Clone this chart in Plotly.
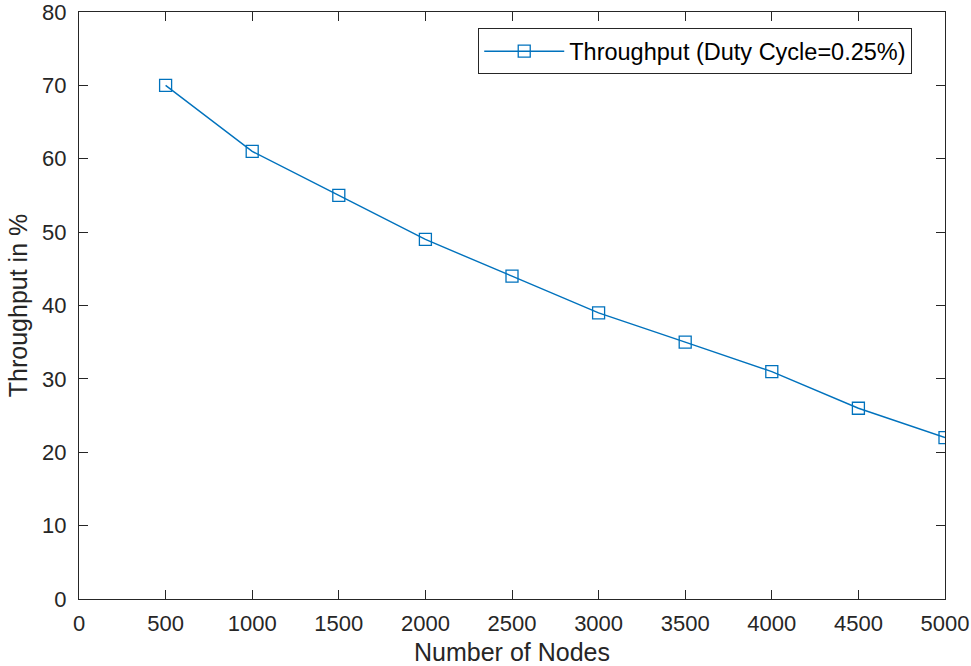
import plotly.graph_objects as go

nodes = [500, 1000, 1500, 2000, 2500, 3000, 3500, 4000, 4500, 5000]
throughput = [70, 61, 55, 49, 44, 39, 35, 31, 26, 22]
x_ticks = [0, 500, 1000, 1500, 2000, 2500, 3000, 3500, 4000, 4500, 5000]
y_ticks = [0, 10, 20, 30, 40, 50, 60, 70, 80]

blue = '#0072BD'
font = 'Liberation Sans, Arial, sans-serif'

fig = go.Figure()
fig.add_trace(go.Scatter(x=nodes, y=throughput, mode='lines+markers',
                         name='Throughput (Duty Cycle=0.25%)',
                         line=dict(color=blue, width=1.4),
                         marker=dict(symbol='square-open', size=12, color=blue, line=dict(width=1.3))))

axis_style = dict(showline=True, linecolor='#262626', linewidth=1.3, mirror='ticks',
                  ticks='inside', ticklen=9, tickcolor='#262626', tickwidth=1,
                  showgrid=False, zeroline=False, ticklabeloverflow='allow',
                  tickfont=dict(family=font, size=22, color='#262626'))

fig.update_xaxes(range=[0, 5000], tickvals=x_ticks, ticklabelstandoff=4,
                 title=dict(text='Number of Nodes', standoff=13,
                            font=dict(family=font, size=25, color='#262626')), **axis_style)
fig.update_yaxes(range=[0, 80], tickvals=y_ticks, ticklabelstandoff=7,
                 title=dict(text='Throughput in %', standoff=7,
                            font=dict(family=font, size=25, color='#262626')), **axis_style)

fig.update_layout(width=971, height=666, plot_bgcolor='white', paper_bgcolor='white',
                  margin=dict(l=79, r=26, t=12, b=67, autoexpand=False),
                  legend=dict(x=0.461, y=0.972, xanchor='left', yanchor='top',
                              bordercolor='#262626', borderwidth=1, bgcolor='white',
                              font=dict(family=font, size=23.5, color='black'),
                              itemwidth=80, tracegroupgap=0),
                  showlegend=True)

fig.write_html("out.html", config={'displayModeBar': False},
               post_script="document.body.style.margin='0';")
